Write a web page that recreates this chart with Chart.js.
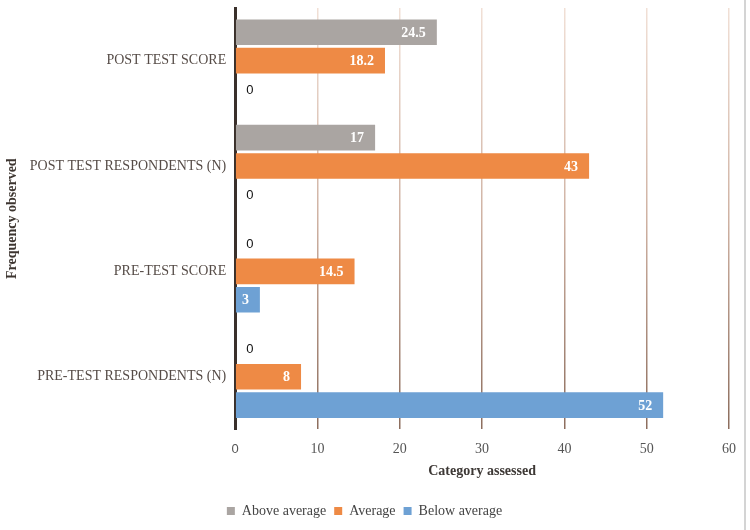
<!DOCTYPE html>
<html>
<head>
<meta charset="utf-8">
<script src="https://cdn.jsdelivr.net/npm/chart.js@4.4.1/dist/chart.umd.min.js"></script>
<style>
html,body{margin:0;padding:0;background:#fff;}
#wrap{position:relative;width:750px;height:530px;}
#edge{position:absolute;left:744px;top:0;width:2px;height:530px;background:#d4d4d4;}
</style>
</head>
<body>
<div id="wrap"><canvas id="c" width="750" height="530"></canvas><div id="edge"></div></div>
<script>
const categories = ["POST TEST SCORE", "POST TEST RESPONDENTS (N)", "PRE-TEST SCORE", "PRE-TEST RESPONDENTS (N)"];
const aboveAverage = [24.5, 17, 0, 0];
const average = [18.2, 43, 14.5, 8];
const belowAverage = [0, 0, 3, 52];
const seriesNames = ["Above average", "Average", "Below average"];
const xTicks = [0, 10, 20, 30, 40, 50, 60];

const serif = "'Liberation Serif', 'Times New Roman', serif";
const sans = "'Liberation Sans', Arial, sans-serif";

const labelPlugin = {
  id: 'barLabels',
  afterDatasetsDraw(chart) {
    const ctx = chart.ctx;
    ctx.save();
    chart.data.datasets.forEach((ds, di) => {
      const meta = chart.getDatasetMeta(di);
      meta.data.forEach((bar, i) => {
        const v = ds.data[i];
        ctx.textBaseline = 'middle';
        if (v === 0) {
          ctx.font = "13px " + sans;
          ctx.fillStyle = '#111';
          ctx.textAlign = 'left';
          ctx.fillText('0', bar.base + 11, bar.y + 1);
        } else {
          ctx.font = "bold 14px " + serif;
          ctx.fillStyle = '#ffffff';
          ctx.textAlign = 'right';
          ctx.fillText(String(v), bar.x - 11, bar.y + 1);
        }
      });
    });
    ctx.restore();
  }
};

function gridGradient(context) {
  const chart = context.chart;
  const a = chart.chartArea;
  if (!a) return '#c9ab9c';
  const g = chart.ctx.createLinearGradient(0, a.top, 0, a.bottom);
  g.addColorStop(0, '#f1e0d6');
  g.addColorStop(0.5, '#cfb2a3');
  g.addColorStop(1, '#8c6d5d');
  return g;
}

new Chart(document.getElementById('c'), {
  type: 'bar',
  data: {
    labels: categories,
    datasets: [
      { label: seriesNames[0], data: aboveAverage, backgroundColor: '#aaa5a2' },
      { label: seriesNames[1], data: average, backgroundColor: '#ee8a45' },
      { label: seriesNames[2], data: belowAverage, backgroundColor: '#6ea1d4' }
    ]
  },
  plugins: [labelPlugin],
  options: {
    indexAxis: 'y',
    responsive: false,
    animation: false,
    devicePixelRatio: 1,
    categoryPercentage: 0.81,
    barPercentage: 0.9,
    layout: { padding: { left: 0, right: 21, top: 8, bottom: 2 } },
    scales: {
      x: {
        min: 0, max: 60,
        afterBuildTicks(scale) { scale.ticks = xTicks.map(v => ({ value: v })); },
        grid: {
          color: (ctx) => ctx.tick && ctx.tick.value === 0 ? 'rgba(0,0,0,0)' : gridGradient(ctx),
          lineWidth: 1.5,
          drawTicks: false
        },
        border: { display: false },
        ticks: {
          padding: 12,
          color: '#555',
          font: (ctx) => (ctx.tick && ctx.tick.value === 0) ? { family: sans, size: 13 } : { family: serif, size: 14 }
        },
        title: {
          display: true,
          text: 'Category assessed',
          color: '#3d3835',
          font: { family: serif, size: 14, weight: 'bold' },
          padding: { top: -7, bottom: 16 }
        }
      },
      y: {
        afterFit(scale) { scale.paddingTop = 0; scale.paddingBottom = 0; },
        grid: { display: false, drawTicks: false },
        border: { display: true, color: '#3a302b', width: 3 },
        ticks: {
          padding: 9,
          color: '#564c47',
          font: { family: serif, size: 14 }
        },
        title: {
          display: true,
          text: 'Frequency observed',
          color: '#3d3530',
          font: { family: serif, size: 14, weight: 'bold' },
          padding: { top: 4, bottom: 0 }
        }
      }
    },
    plugins: {
      legend: {
        position: 'bottom',
        labels: {
          boxWidth: 8,
          boxHeight: 8,
          padding: 8,
          color: '#444',
          font: { family: serif, size: 14 }
        }
      },
      tooltip: { enabled: false }
    }
  }
});
</script>
</body>
</html>
